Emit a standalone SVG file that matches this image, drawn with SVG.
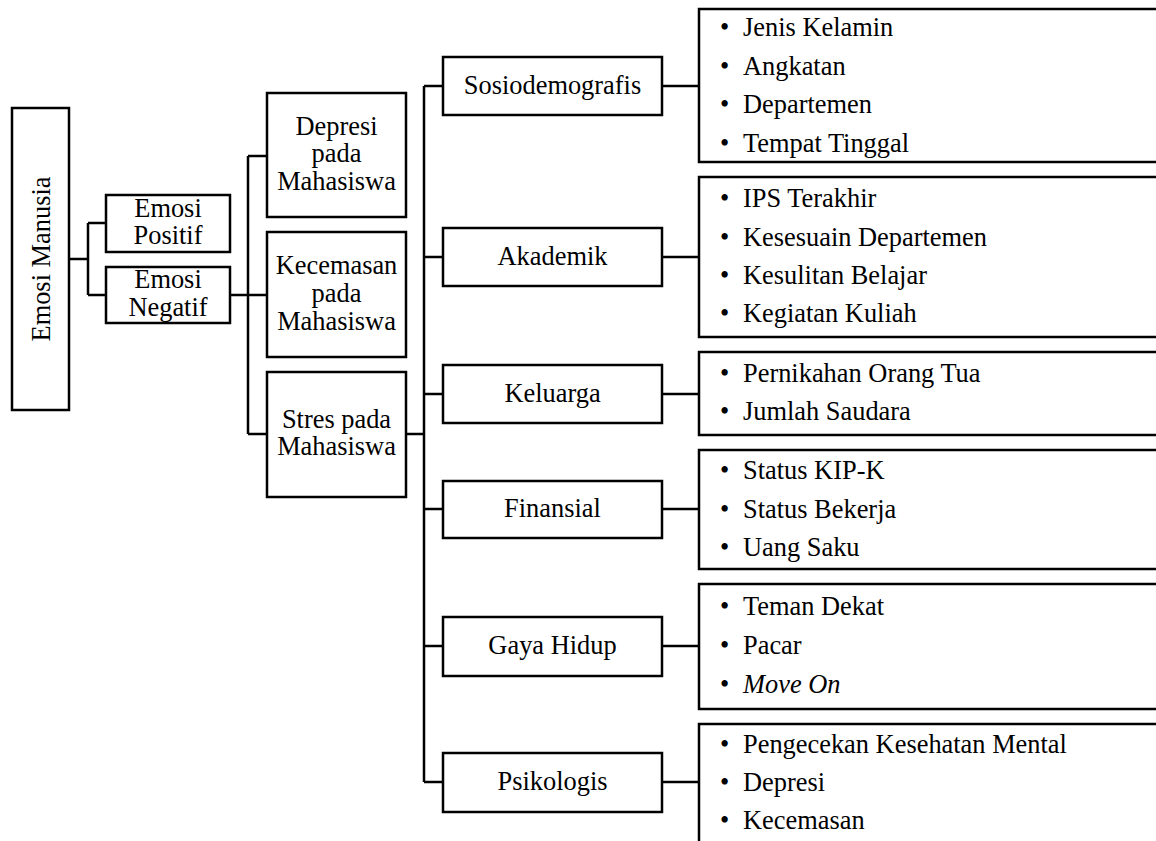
<svg xmlns="http://www.w3.org/2000/svg" width="1156" height="841" viewBox="0 0 1156 841">
<style>
rect{fill:#fff;stroke:#000;stroke-width:2.5}
.c{fill:none;stroke:#000;stroke-width:2.5}
text{font-family:"Liberation Serif","Times New Roman",serif;font-size:26.4px;fill:#000}
.m{text-anchor:middle}
</style>
<rect width="1156" height="841" style="stroke:none"/>
<g id="connectors" class="c">
<path class="c" d="M69 259H88M88 223V295M88 223H106M88 295H106"/>
<path class="c" d="M230 295H267M248 156V434M248 156H267M248 434H267"/>
<path class="c" d="M406 434H424M424 86V782M424 86H443M424 257H443M424 394H443M424 509H443M424 646H443M424 782H443"/>
<path class="c" d="M662 86H699M662 257H699M662 394H699M662 509H699M662 646H699M662 782H699"/>
</g>
<g id="emosi-manusia"><rect x="12" y="108" width="57" height="302"/><text class="m" transform="translate(50,259) rotate(-90)">Emosi Manusia</text></g>
<g id="emosi-positif"><rect x="106" y="195" width="124" height="57"/><text class="m" x="168" y="217">Emosi</text><text class="m" x="168" y="244">Positif</text></g>
<g id="emosi-negatif"><rect x="106" y="267" width="124" height="56"/><text class="m" x="168" y="288">Emosi</text><text class="m" x="168" y="316">Negatif</text></g>
<g id="depresi"><rect x="267" y="93" width="139" height="124"/><text class="m" x="336.5" y="135">Depresi</text><text class="m" x="336.5" y="162">pada</text><text class="m" x="336.5" y="190">Mahasiswa</text></g>
<g id="kecemasan"><rect x="267" y="232" width="139" height="125"/><text class="m" x="336.5" y="274">Kecemasan</text><text class="m" x="336.5" y="302">pada</text><text class="m" x="336.5" y="330">Mahasiswa</text></g>
<g id="stres"><rect x="267" y="372" width="139" height="125"/><text class="m" x="336.5" y="428">Stres pada</text><text class="m" x="336.5" y="455">Mahasiswa</text></g>
<g id="sosiodemografis"><rect x="443" y="57" width="219" height="58"/><text class="m" x="552.5" y="94">Sosiodemografis</text></g>
<g id="akademik"><rect x="443" y="228" width="219" height="58"/><text class="m" x="552.5" y="265">Akademik</text></g>
<g id="keluarga"><rect x="443" y="365" width="219" height="58"/><text class="m" x="552.5" y="402">Keluarga</text></g>
<g id="finansial"><rect x="443" y="481" width="219" height="57"/><text class="m" x="552.5" y="517">Finansial</text></g>
<g id="gaya-hidup"><rect x="443" y="617" width="219" height="59"/><text class="m" x="552.5" y="654">Gaya Hidup</text></g>
<g id="psikologis"><rect x="443" y="753" width="219" height="59"/><text class="m" x="552.5" y="790">Psikologis</text></g>
<g id="list-sosio"><rect x="699" y="9" width="520" height="153"/>
<text x="720" y="36">•</text><text x="743" y="36">Jenis Kelamin</text>
<text x="720" y="75">•</text><text x="743" y="75">Angkatan</text>
<text x="720" y="113">•</text><text x="743" y="113">Departemen</text>
<text x="720" y="152">•</text><text x="743" y="152">Tempat Tinggal</text></g>
<g id="list-akademik"><rect x="699" y="177" width="520" height="160"/>
<text x="720" y="207">•</text><text x="743" y="207">IPS Terakhir</text>
<text x="720" y="246">•</text><text x="743" y="246">Kesesuain Departemen</text>
<text x="720" y="284">•</text><text x="743" y="284">Kesulitan Belajar</text>
<text x="720" y="322">•</text><text x="743" y="322">Kegiatan Kuliah</text></g>
<g id="list-keluarga"><rect x="699" y="352" width="520" height="83"/>
<text x="720" y="382">•</text><text x="743" y="382">Pernikahan Orang Tua</text>
<text x="720" y="420">•</text><text x="743" y="420">Jumlah Saudara</text></g>
<g id="list-finansial"><rect x="699" y="450" width="520" height="119"/>
<text x="720" y="479">•</text><text x="743" y="479">Status KIP-K</text>
<text x="720" y="518">•</text><text x="743" y="518">Status Bekerja</text>
<text x="720" y="556">•</text><text x="743" y="556">Uang Saku</text></g>
<g id="list-gaya"><rect x="699" y="584" width="520" height="125"/>
<text x="720" y="615">•</text><text x="743" y="615">Teman Dekat</text>
<text x="720" y="654">•</text><text x="743" y="654">Pacar</text>
<text x="720" y="693">•</text><text x="743" y="693" font-style="italic">Move On</text></g>
<g id="list-psikologis"><rect x="699" y="724" width="520" height="200"/>
<text x="720" y="753">•</text><text x="743" y="753">Pengecekan Kesehatan Mental</text>
<text x="720" y="791">•</text><text x="743" y="791">Depresi</text>
<text x="720" y="829">•</text><text x="743" y="829">Kecemasan</text></g>
</svg>
